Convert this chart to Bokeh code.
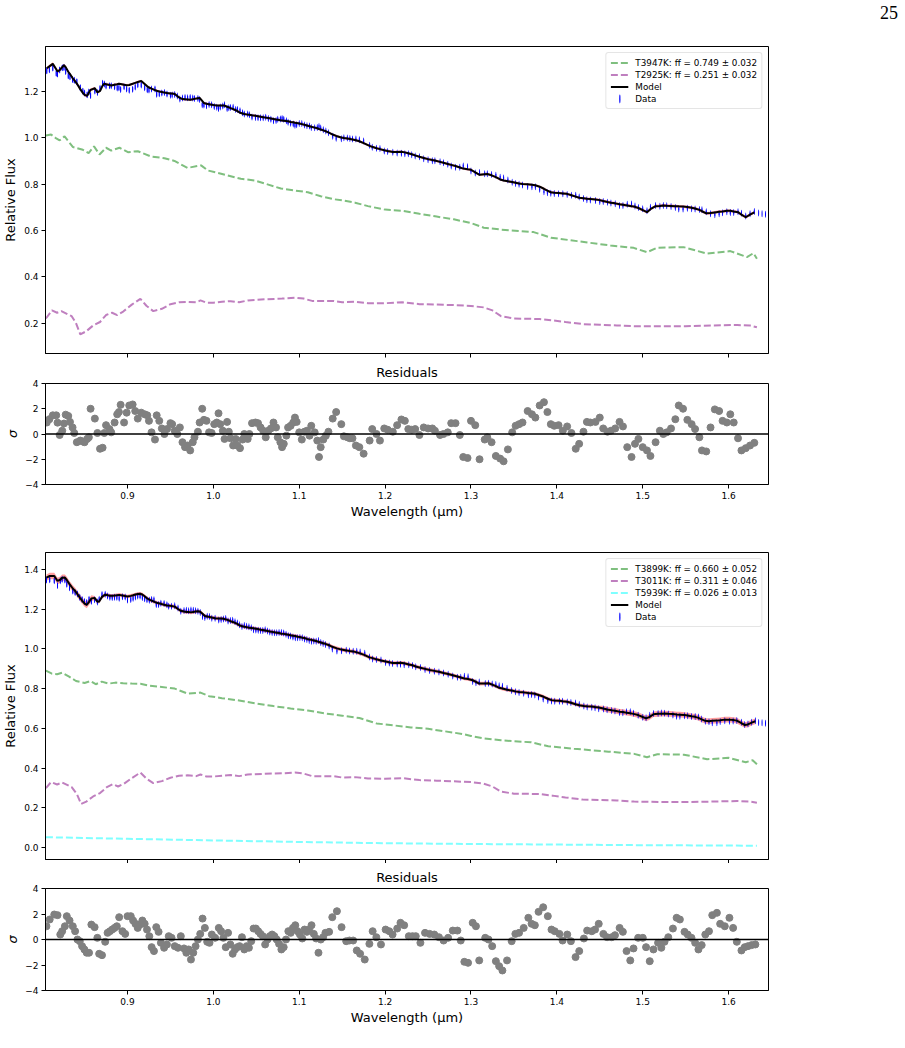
import numpy as np
from bokeh.plotting import figure
from bokeh.layouts import column
from bokeh.models import (Range1d, FixedTicker, PrintfTickFormatter, Legend,
                          LegendItem, Span, Div, CustomJSTickFormatter)
from bokeh.embed import file_html
from bokeh.resources import INLINE

# ---------------------------------------------------------------- data ----
# Fit 1: two-temperature model
wl_top = [
    0.806, 0.809, 0.813, 0.817, 0.8185, 0.821, 0.824, 0.826, 0.828, 0.831,
    0.833, 0.836, 0.838, 0.841, 0.845, 0.848, 0.850, 0.853, 0.855, 0.857,
    0.862, 0.865, 0.868, 0.871, 0.873, 0.875, 0.879, 0.881, 0.885, 0.888,
    0.890, 0.892, 0.896, 0.899, 0.902, 0.906, 0.909, 0.912, 0.916, 0.920,
    0.923, 0.925, 0.928, 0.932, 0.934, 0.937, 0.940, 0.943, 0.946, 0.950,
    0.952, 0.955, 0.958, 0.961, 0.964, 0.967, 0.970, 0.973, 0.976, 0.978,
    0.982, 0.984, 0.987, 0.989, 0.992, 0.995, 0.998, 1.001, 1.004, 1.006,
    1.008, 1.011, 1.013, 1.016, 1.018, 1.020, 1.023, 1.026, 1.028, 1.031,
    1.034, 1.036, 1.040, 1.042, 1.045, 1.049, 1.052, 1.055, 1.058, 1.061,
    1.064, 1.067, 1.070, 1.073, 1.075, 1.078, 1.080, 1.082, 1.085, 1.087,
    1.090, 1.093, 1.095, 1.097, 1.100, 1.103, 1.106, 1.109, 1.112, 1.114,
    1.118, 1.121, 1.123, 1.125, 1.128, 1.131, 1.134, 1.139, 1.143, 1.149,
    1.152, 1.156, 1.159, 1.162, 1.166, 1.170, 1.175, 1.182, 1.185, 1.190,
    1.194, 1.199, 1.203, 1.209, 1.214, 1.219, 1.223, 1.227, 1.231, 1.235,
    1.240, 1.245, 1.250, 1.255, 1.258, 1.264, 1.268, 1.273, 1.277, 1.282,
    1.287, 1.291, 1.296, 1.300, 1.305, 1.310, 1.316, 1.319, 1.324, 1.329,
    1.334, 1.338, 1.343, 1.348, 1.352, 1.356, 1.360, 1.366, 1.371, 1.375,
    1.380, 1.385, 1.389, 1.393, 1.397, 1.402, 1.407, 1.412, 1.417, 1.422,
    1.426, 1.431, 1.435, 1.439, 1.445, 1.450, 1.454, 1.459, 1.463, 1.468,
    1.473, 1.477, 1.482, 1.487, 1.491, 1.495, 1.500, 1.505, 1.509, 1.515,
    1.520, 1.524, 1.528, 1.533, 1.538, 1.542, 1.547, 1.552, 1.557, 1.561,
    1.566, 1.569, 1.574, 1.579, 1.584, 1.589, 1.593, 1.598, 1.602, 1.606,
    1.611, 1.615, 1.620, 1.625, 1.630]
resid_top = [
    0.91, 1.17, 1.48, 1.48, 0.90, -0.08, 0.26, 0.83, 1.53, 1.43,
    0.96, 0.52, 0.08, -0.65, -0.52, -0.60, -0.65, -0.39, -0.26, 2.00,
    1.22, 0.08, -1.17, -1.09, 0.08, 0.70, 0.39, 0.13, 0.91, 1.56,
    1.74, 2.31, 0.91, 1.69, 2.26, 2.34, 1.82, 1.22, 1.69, 1.56,
    1.48, 1.04, 0.13, -0.44, 1.48, 1.04, 0.44, 0.00, 0.39, 0.86,
    0.78, 0.26, 0.00, 0.52, -0.65, -1.04, -0.91, -1.30, -0.65, -0.26,
    0.18, 0.91, 2.00, 1.12, 1.04, 0.13, 0.08, 0.78, 0.91, 1.64,
    0.78, 0.26, -0.39, 0.96, 0.18, -0.34, -0.91, -0.39, -0.91, -1.12,
    -0.44, 0.00, -0.39, 0.00, 0.86, 0.91, 0.86, 0.52, 0.26, -0.26,
    0.26, 0.44, 0.91, 0.52, -0.26, -0.65, -1.04, -0.78, -0.13, 0.52,
    0.65, 0.91, 1.30, 0.96, 0.13, -0.44, 0.18, 0.26, -0.13, 0.65,
    0.13, -0.52, -1.82, -1.04, -0.44, -0.13, 0.18, 1.22, 1.74, 0.78,
    -0.18, -0.26, -0.34, -0.34, -0.91, -1.04, -1.56, -0.52, 0.39, 0.00,
    -0.52, 0.44, 0.34, 0.18, 0.70, 1.15, 1.04, 0.39, 0.34, 0.39,
    -0.08, 0.52, 0.44, 0.44, 0.26, -0.08, 0.00, 0.13, 0.86, 0.86,
    -0.08, -1.82, -1.90, 1.04, 0.70, -2.00, -0.44, -0.26, -0.65, -1.74,
    -1.95, -2.16, -1.22, 0.13, 0.65, 0.78, 0.91, 1.82, 1.56, 1.30,
    2.26, 2.52, 1.74, 0.78, 0.65, 0.70, 0.26, 0.60, 0.08, -1.17,
    -0.78, 0.18, 0.96, 0.91, 0.96, 1.30, 0.44, 0.18, 0.26, 0.44,
    0.96, 0.60, -1.04, -1.82, -0.78, -0.39, -1.04, -1.30, -1.74, -0.65,
    0.26, 0.00, 0.13, 0.44, 1.17, 2.26, 2.00, 1.12, 0.78, 0.39,
    -0.26, -1.30, -1.38, 0.52, 1.95, 1.82, 1.04, 0.91, 1.56, 0.91,
    -0.34, -1.30, -1.12, -0.91, -0.70]
model_top = [
    1.300, 1.308, 1.319, 1.296, 1.286, 1.292, 1.305, 1.313, 1.305, 1.285,
    1.275, 1.258, 1.249, 1.234, 1.210, 1.194, 1.185, 1.181, 1.194, 1.207,
    1.214, 1.196, 1.202, 1.225, 1.233, 1.231, 1.228, 1.226, 1.229, 1.231,
    1.233, 1.232, 1.229, 1.227, 1.228, 1.233, 1.237, 1.241, 1.245, 1.232,
    1.222, 1.217, 1.212, 1.206, 1.203, 1.200, 1.198, 1.195, 1.193, 1.191,
    1.191, 1.189, 1.180, 1.172, 1.167, 1.166, 1.165, 1.164, 1.166, 1.168,
    1.171, 1.172, 1.159, 1.150, 1.147, 1.145, 1.143, 1.141, 1.139, 1.139,
    1.139, 1.139, 1.139, 1.134, 1.131, 1.128, 1.124, 1.119, 1.115, 1.108,
    1.105, 1.103, 1.100, 1.099, 1.097, 1.095, 1.093, 1.091, 1.089, 1.087,
    1.085, 1.083, 1.081, 1.079, 1.078, 1.076, 1.075, 1.074, 1.072, 1.071,
    1.068, 1.067, 1.065, 1.064, 1.062, 1.059, 1.056, 1.053, 1.050, 1.048,
    1.044, 1.041, 1.038, 1.036, 1.032, 1.028, 1.023, 1.014, 1.008, 1.001,
    0.999, 0.997, 0.995, 0.993, 0.989, 0.985, 0.977, 0.965, 0.961, 0.955,
    0.951, 0.946, 0.943, 0.939, 0.939, 0.940, 0.937, 0.933, 0.929, 0.924,
    0.918, 0.913, 0.908, 0.904, 0.902, 0.896, 0.892, 0.887, 0.883, 0.878,
    0.872, 0.867, 0.864, 0.862, 0.851, 0.840, 0.843, 0.844, 0.838, 0.830,
    0.820, 0.816, 0.812, 0.809, 0.806, 0.803, 0.801, 0.799, 0.797, 0.795,
    0.789, 0.780, 0.772, 0.765, 0.763, 0.762, 0.760, 0.758, 0.752, 0.746,
    0.741, 0.739, 0.737, 0.736, 0.734, 0.731, 0.727, 0.723, 0.720, 0.717,
    0.713, 0.711, 0.708, 0.705, 0.702, 0.697, 0.688, 0.679, 0.692, 0.705,
    0.706, 0.708, 0.707, 0.706, 0.705, 0.704, 0.703, 0.701, 0.698, 0.695,
    0.689, 0.683, 0.674, 0.675, 0.678, 0.681, 0.682, 0.685, 0.685, 0.682,
    0.679, 0.668, 0.657, 0.668, 0.678]
# data points redward of the model grid
tail_wl_top = [1.635, 1.639, 1.643]
tail_flux_top = [0.675, 0.672, 0.670]

green_wl_top = [0.805, 0.811, 0.816, 0.821, 0.8267, 0.8365, 0.848, 0.8547, 0.861,
                0.8674, 0.875, 0.881, 0.8907, 0.9005, 0.912, 0.9276, 0.943, 0.9547,
                0.970, 0.9857, 0.9935, 1.009, 1.032, 1.048, 1.063, 1.0787, 1.094,
                1.11, 1.125, 1.14, 1.15, 1.165, 1.18, 1.20, 1.22, 1.24, 1.26, 1.28,
                1.30, 1.315, 1.3345, 1.373, 1.393, 1.4237, 1.4625, 1.4895, 1.505,
                1.5167, 1.5477, 1.575, 1.602, 1.6214, 1.629, 1.633]
green_flux_top = [1.010, 1.014, 1.000, 0.989, 1.006, 0.960, 0.948, 0.934, 0.963,
                  0.928, 0.957, 0.945, 0.957, 0.938, 0.942, 0.919, 0.912, 0.900,
                  0.870, 0.881, 0.859, 0.845, 0.823, 0.816, 0.799, 0.781, 0.773,
                  0.765, 0.748, 0.735, 0.730, 0.720, 0.705, 0.690, 0.685, 0.672,
                  0.660, 0.648, 0.632, 0.612, 0.604, 0.593, 0.569, 0.554, 0.535,
                  0.525, 0.506, 0.525, 0.528, 0.500, 0.511, 0.485, 0.502, 0.478]
purple_wl_top = [0.805, 0.812, 0.818, 0.823, 0.835, 0.840, 0.845, 0.852, 0.860,
                 0.868, 0.875, 0.882, 0.888, 0.895, 0.905, 0.915, 0.922, 0.930,
                 0.940, 0.950, 0.960, 0.970, 0.980, 0.985, 0.992, 1.000, 1.010,
                 1.020, 1.030, 1.040, 1.060, 1.080, 1.095, 1.105, 1.115, 1.140,
                 1.150, 1.165, 1.180, 1.200, 1.220, 1.240, 1.260, 1.280, 1.300,
                 1.315, 1.325, 1.335, 1.350, 1.380, 1.395, 1.410, 1.430, 1.450,
                 1.470, 1.490, 1.520, 1.550, 1.580, 1.610, 1.625, 1.633]
purple_flux_top = [0.220, 0.255, 0.245, 0.252, 0.230, 0.200, 0.152, 0.165, 0.190,
                   0.205, 0.235, 0.245, 0.235, 0.250, 0.280, 0.305, 0.275, 0.252,
                   0.262, 0.282, 0.290, 0.292, 0.290, 0.298, 0.288, 0.288, 0.292,
                   0.295, 0.290, 0.298, 0.303, 0.306, 0.310, 0.306, 0.296, 0.296,
                   0.290, 0.292, 0.286, 0.286, 0.290, 0.282, 0.280, 0.278, 0.274,
                   0.268, 0.255, 0.230, 0.220, 0.218, 0.212, 0.205, 0.196, 0.193,
                   0.190, 0.187, 0.187, 0.187, 0.190, 0.192, 0.190, 0.182]

# Fit 2: three-temperature model
wl_bot = [
    0.8056, 0.8094, 0.8147, 0.8185, 0.8217, 0.8239, 0.8271, 0.8293, 0.8325, 0.8363,
    0.8390, 0.8417, 0.8444, 0.8471, 0.8498, 0.8525, 0.8552, 0.8579, 0.8617, 0.8649,
    0.8670, 0.8703, 0.8740, 0.8768, 0.8795, 0.8822, 0.8849, 0.8876, 0.8903, 0.8941,
    0.8973, 0.9000, 0.9038, 0.9065, 0.9092, 0.9119, 0.9146, 0.9173, 0.9200, 0.9227,
    0.9254, 0.9281, 0.9308, 0.9335, 0.9362, 0.9389, 0.9426, 0.9459, 0.9480, 0.9513,
    0.9550, 0.9588, 0.9621, 0.9658, 0.9685, 0.9712, 0.9739, 0.9766, 0.9793, 0.9820,
    0.9847, 0.9874, 0.9901, 0.9928, 0.9955, 0.9982, 1.0020, 1.0063, 1.0090, 1.0117,
    1.0144, 1.0171, 1.0198, 1.0225, 1.0252, 1.0279, 1.0306, 1.0333, 1.0360, 1.0387,
    1.0414, 1.0441, 1.0468, 1.0495, 1.0522, 1.0549, 1.0576, 1.0603, 1.0630, 1.0657,
    1.0684, 1.0711, 1.0738, 1.0765, 1.0792, 1.0819, 1.0846, 1.0873, 1.0900, 1.0927,
    1.0954, 1.0981, 1.1008, 1.1035, 1.1062, 1.1089, 1.1116, 1.1143, 1.1170, 1.1197,
    1.1224, 1.1251, 1.1278, 1.1305, 1.1348, 1.1385, 1.1439, 1.1493, 1.1547, 1.1585,
    1.1628, 1.1670, 1.1709, 1.1763, 1.1817, 1.1855, 1.1898, 1.1952, 1.2006, 1.2049,
    1.2087, 1.2141, 1.2179, 1.2222, 1.2276, 1.2319, 1.2357, 1.2411, 1.2465, 1.2519,
    1.2573, 1.2627, 1.2681, 1.2734, 1.2788, 1.2842, 1.2881, 1.2923, 1.2966, 1.3020,
    1.3058, 1.3096, 1.3166, 1.3204, 1.3247, 1.3290, 1.3328, 1.3366, 1.3420, 1.3474,
    1.3517, 1.3560, 1.3614, 1.3668, 1.3706, 1.3744, 1.3787, 1.3841, 1.3895, 1.3938,
    1.3976, 1.4030, 1.4067, 1.4121, 1.4164, 1.4218, 1.4261, 1.4315, 1.4353, 1.4407,
    1.4445, 1.4488, 1.4542, 1.4585, 1.4639, 1.4677, 1.4731, 1.4769, 1.4812, 1.4855,
    1.4893, 1.4947, 1.5001, 1.5039, 1.5082, 1.5125, 1.5179, 1.5217, 1.5254, 1.5298,
    1.5352, 1.5395, 1.5433, 1.5487, 1.5524, 1.5568, 1.5611, 1.5649, 1.5687, 1.5729,
    1.5772, 1.5810, 1.5864, 1.5902, 1.5956, 1.6010, 1.6053, 1.6096, 1.6150, 1.6188,
    1.6226, 1.6269, 1.6312]
resid_bot = [
    1.04, 1.57, 1.96, 1.91, 0.39, 0.65, 1.04, 1.83, 1.49, 1.04,
    0.65, 0.00, -0.13, -0.52, -0.78, -1.04, -1.04, 1.17, 0.97, 0.13,
    -1.12, -1.23, -0.18, 0.52, 0.65, 0.78, 0.91, 1.04, 1.75, 0.65,
    0.44, 1.83, 1.83, 1.49, 1.23, 0.91, 1.17, 1.49, 1.23, 0.78,
    0.26, -0.60, -0.91, 0.97, 0.60, -0.26, -0.65, -0.39, 0.26, 0.13,
    -0.52, -0.65, 0.26, -0.70, -1.04, -0.78, -1.57, -1.04, -0.52, 0.00,
    0.44, 1.64, 0.91, -0.18, -0.26, 0.39, 0.13, 0.91, 0.65, 0.13,
    -0.60, 0.52, -0.39, -1.12, -0.78, -0.60, -0.52, 0.18, -0.78, -0.52,
    -0.65, -0.13, 0.86, 0.86, 0.65, 0.44, 0.26, -0.39, 0.00, 0.26,
    0.39, 0.26, 0.00, -0.34, -0.78, -0.60, 0.00, 0.65, 0.52, 0.91,
    1.12, 0.65, 0.39, 0.08, 0.78, 0.60, 0.78, 1.12, 0.44, 0.08,
    -1.04, 0.00, 0.18, 0.52, 0.60, 1.75, 2.22, 0.97, -0.13, -0.08,
    -0.08, -0.86, -1.12, -1.57, -0.34, 0.65, 0.18, -0.39, 0.78, 0.65,
    0.39, 0.86, 1.31, 1.12, 0.26, 0.26, 0.26, -0.26, 0.52, 0.44,
    0.39, 0.18, -0.08, 0.13, 0.70, 0.70, -0.08, -1.75, -1.83, 1.31,
    1.04, -1.64, 0.13, 0.00, -0.52, -1.70, -2.09, -2.43, -1.64, -0.13,
    0.44, 0.52, 0.91, 1.70, 1.23, 1.12, 2.17, 2.53, 1.83, 0.78,
    0.65, 0.44, -0.08, 0.39, -0.13, -1.38, -0.91, 0.08, 0.70, 0.65,
    0.78, 1.23, 0.44, 0.18, 0.18, 0.34, 0.91, 0.60, -0.91, -1.64,
    -0.70, 0.13, 0.13, -0.60, -1.70, -0.78, -0.26, -0.65, -0.18, 0.18,
    0.86, 1.70, 1.57, 0.60, 0.39, 0.13, -0.26, -0.78, -0.44, 0.39,
    0.65, 1.91, 2.09, 1.23, 1.04, 1.70, 0.91, -0.18, -0.86, -0.60,
    -0.52, -0.44, -0.39]
model_bot = [
    1.358, 1.366, 1.366, 1.341, 1.347, 1.357, 1.358, 1.346, 1.325, 1.303,
    1.291, 1.275, 1.258, 1.242, 1.228, 1.220, 1.236, 1.253, 1.256, 1.237,
    1.238, 1.261, 1.272, 1.270, 1.266, 1.266, 1.268, 1.269, 1.271, 1.268,
    1.265, 1.263, 1.266, 1.269, 1.273, 1.275, 1.277, 1.273, 1.264, 1.254,
    1.247, 1.242, 1.237, 1.232, 1.229, 1.226, 1.221, 1.218, 1.217, 1.215,
    1.212, 1.200, 1.191, 1.187, 1.185, 1.185, 1.183, 1.185, 1.187, 1.189,
    1.186, 1.176, 1.165, 1.162, 1.160, 1.157, 1.154, 1.152, 1.152, 1.151,
    1.148, 1.144, 1.139, 1.135, 1.130, 1.125, 1.117, 1.114, 1.111, 1.109,
    1.106, 1.105, 1.103, 1.101, 1.099, 1.096, 1.094, 1.092, 1.090, 1.087,
    1.085, 1.083, 1.081, 1.079, 1.076, 1.075, 1.073, 1.071, 1.068, 1.066,
    1.064, 1.061, 1.059, 1.056, 1.054, 1.050, 1.047, 1.045, 1.042, 1.039,
    1.035, 1.032, 1.028, 1.025, 1.018, 1.010, 1.002, 0.996, 0.992, 0.989,
    0.987, 0.982, 0.977, 0.968, 0.957, 0.953, 0.947, 0.941, 0.936, 0.932,
    0.929, 0.929, 0.930, 0.927, 0.921, 0.917, 0.911, 0.905, 0.899, 0.893,
    0.889, 0.885, 0.878, 0.873, 0.867, 0.861, 0.856, 0.851, 0.848, 0.842,
    0.834, 0.825, 0.826, 0.827, 0.820, 0.812, 0.804, 0.800, 0.794, 0.790,
    0.786, 0.783, 0.781, 0.778, 0.776, 0.774, 0.768, 0.760, 0.749, 0.742,
    0.740, 0.739, 0.736, 0.734, 0.729, 0.721, 0.716, 0.713, 0.711, 0.710,
    0.707, 0.705, 0.700, 0.695, 0.691, 0.689, 0.684, 0.682, 0.679, 0.676,
    0.673, 0.667, 0.657, 0.650, 0.658, 0.671, 0.673, 0.674, 0.675, 0.673,
    0.672, 0.670, 0.669, 0.667, 0.665, 0.661, 0.658, 0.653, 0.645, 0.638,
    0.636, 0.638, 0.639, 0.641, 0.644, 0.644, 0.642, 0.639, 0.626, 0.617,
    0.620, 0.629, 0.636]
tail_wl_bot = [1.635, 1.639, 1.643]
tail_flux_bot = [0.630, 0.628, 0.626]

green_wl_bot = [0.805, 0.812, 0.818, 0.824, 0.832, 0.840, 0.850, 0.857, 0.863,
                0.870, 0.878, 0.886, 0.895, 0.905, 0.915, 0.925, 0.94, 0.955,
                0.97, 0.985, 0.995, 1.01, 1.03, 1.05, 1.07, 1.09, 1.11, 1.13,
                1.15, 1.17, 1.19, 1.21, 1.23, 1.25, 1.27, 1.29, 1.30, 1.315,
                1.335, 1.37, 1.39, 1.42, 1.46, 1.49, 1.505, 1.517, 1.548,
                1.575, 1.60, 1.62, 1.628, 1.633]
green_flux_bot = [0.890, 0.875, 0.872, 0.880, 0.860, 0.838, 0.828, 0.838, 0.822,
                  0.835, 0.825, 0.830, 0.827, 0.825, 0.824, 0.815, 0.808, 0.800,
                  0.775, 0.780, 0.762, 0.752, 0.740, 0.725, 0.712, 0.700, 0.690,
                  0.675, 0.664, 0.652, 0.625, 0.615, 0.605, 0.598, 0.585, 0.572,
                  0.562, 0.550, 0.540, 0.530, 0.510, 0.498, 0.483, 0.472, 0.455,
                  0.470, 0.468, 0.445, 0.452, 0.430, 0.440, 0.420]
purple_wl_bot = [0.805, 0.811, 0.818, 0.824, 0.835, 0.841, 0.846, 0.852, 0.860,
                 0.868, 0.876, 0.883, 0.889, 0.896, 0.905, 0.915, 0.922, 0.930,
                 0.940, 0.950, 0.960, 0.970, 0.980, 0.985, 0.992, 1.000, 1.010,
                 1.020, 1.030, 1.040, 1.060, 1.080, 1.095, 1.105, 1.115, 1.140,
                 1.150, 1.165, 1.180, 1.200, 1.220, 1.240, 1.260, 1.280, 1.300,
                 1.315, 1.325, 1.335, 1.350, 1.380, 1.395, 1.410, 1.430, 1.450,
                 1.470, 1.490, 1.520, 1.550, 1.580, 1.610, 1.625, 1.633]
purple_flux_bot = [0.300, 0.330, 0.318, 0.328, 0.305, 0.270, 0.220, 0.232, 0.258,
                   0.275, 0.305, 0.320, 0.308, 0.322, 0.350, 0.378, 0.348, 0.325,
                   0.335, 0.352, 0.362, 0.364, 0.360, 0.368, 0.358, 0.358, 0.362,
                   0.366, 0.360, 0.368, 0.372, 0.374, 0.378, 0.373, 0.360, 0.360,
                   0.353, 0.355, 0.348, 0.347, 0.350, 0.340, 0.337, 0.334, 0.330,
                   0.322, 0.308, 0.282, 0.272, 0.270, 0.262, 0.253, 0.242, 0.240,
                   0.238, 0.232, 0.230, 0.230, 0.232, 0.235, 0.232, 0.226]
cyan_wl_bot = [0.805, 0.9, 1.0, 1.1, 1.2, 1.3, 1.4, 1.5, 1.6, 1.633]
cyan_flux_bot = [0.053, 0.045, 0.037, 0.029, 0.023, 0.019, 0.016, 0.013, 0.011, 0.010]

labels_top = ["T3947K: ff = 0.749 \u00b1 0.032", "T2925K: ff = 0.251 \u00b1 0.032"]
labels_bot = ["T3899K: ff = 0.660 \u00b1 0.052", "T3011K: ff = 0.311 \u00b1 0.046",
              "T5939K: ff = 0.026 \u00b1 0.013"]

# flux uncertainty per wavelength band (edges in micron)
err_edges = [0.86, 0.95, 1.10, 1.30]
err_levels = [0.012, 0.010, 0.008, 0.006, 0.005]
# half-width of the model uncertainty band
band_edges = [0.86, 1.45]
band_levels_top = [0.007, 0.005, 0.006]
band_levels_bot = [0.016, 0.009, 0.014]

# ------------------------------------------------------------- styling ----
FONT = "DejaVu Sans"
W = 905
X_RANGE = (0.8045, 1.6465)
WL_TICKS = [0.9, 1.0, 1.1, 1.2, 1.3, 1.4, 1.5, 1.6]
GREEN, PURPLE, CYAN = "#7fbf7f", "#bf7fbf", "#7fffff"


def base_figure(height, top, bottom, y_range, title=None):
    kw = {}
    if title:
        kw["title"] = title
    p = figure(width=W, height=height, x_range=Range1d(*X_RANGE),
               y_range=Range1d(*y_range), output_backend="svg",
               toolbar_location=None, min_border_left=44, min_border_right=137,
               min_border_top=top, min_border_bottom=bottom, **kw)
    p.grid.visible = False
    p.outline_line_color = "black"
    p.outline_line_width = 1
    p.background_fill_color = "white"
    p.border_fill_color = "white"
    for ax in (p.xaxis[0], p.yaxis[0]):
        ax.axis_line_color = "black"
        ax.major_tick_line_color = "black"
        ax.major_tick_out = 4
        ax.major_tick_in = 0
        ax.minor_tick_out = 0
        ax.minor_tick_in = 0
        ax.major_label_text_font = FONT
        ax.major_label_text_font_size = "9px"
        ax.major_label_text_color = "black"
        ax.major_label_standoff = 3
        ax.axis_label_text_font = FONT
        ax.axis_label_text_font_size = "13px"
        ax.axis_label_text_font_style = "normal"
        ax.axis_label_text_color = "black"
    p.xaxis.ticker = FixedTicker(ticks=WL_TICKS, minor_ticks=[])
    p.xaxis.formatter = PrintfTickFormatter(format="%.1f")
    return p


def spectrum_panel(height, top, bottom, y_range, y_ticks, wl, model, resid,
                   tail_wl, tail_flux, comps, band_levels):
    wl = np.array(wl)
    model = np.array(model)
    resid = np.array(resid)
    err = np.array(err_levels)[np.digitize(wl, err_edges)]
    band = np.array(band_levels)[np.digitize(wl, band_edges)]
    data = model - resid * err

    p = base_figure(height, top, bottom, y_range)
    # wavelength ticks without labels on the spectrum panels
    p.xaxis.formatter = CustomJSTickFormatter(code="return ''")
    p.xaxis.major_label_standoff = 0
    p.yaxis.ticker = FixedTicker(ticks=y_ticks, minor_ticks=[])
    p.yaxis.formatter = PrintfTickFormatter(format="%.1f")
    p.yaxis.axis_label = "Relative Flux"
    p.yaxis.axis_label_standoff = 3

    p.varea(x=wl, y1=model - band, y2=model + band, fill_color="red", fill_alpha=0.38)
    p.segment(x0=wl, y0=data - err, x1=wl, y1=data + err, line_color="blue",
              line_width=1, line_alpha=0.8)
    all_wl = np.concatenate([wl, tail_wl])
    all_flux = np.concatenate([data, tail_flux])
    # thin vertical ticks mark each data point (and give a "|" legend glyph)
    r_data = p.ellipse(x=all_wl, y=all_flux, width=1, height=7,
                       width_units="screen", height_units="screen",
                       fill_color="blue", line_color=None)
    items = []
    for label, cwl, cflux, color in comps:
        r = p.line(cwl, cflux, line_color=color, line_width=2, line_dash="7 3")
        items.append(LegendItem(label=label, renderers=[r]))
    r_model = p.line(wl, model, line_color="black", line_width=2)
    items.append(LegendItem(label="Model", renderers=[r_model]))
    items.append(LegendItem(label="Data", renderers=[r_data]))

    legend = Legend(items=items, location="top_right", margin=6, padding=4,
                    spacing=1, glyph_width=18, glyph_height=11, label_height=11,
                    label_standoff=7, label_text_font=FONT,
                    label_text_font_size="8.8px", label_text_color="black",
                    border_line_color="#cccccc", border_line_width=1,
                    background_fill_alpha=0.8)
    if "border_radius" in Legend.properties():
        legend.border_radius = 3
    p.add_layout(legend)
    return p


def residual_panel(height, top, bottom, wl, resid):
    p = base_figure(height, top, bottom, (-4, 4), title="Residuals")
    p.title.align = "center"
    p.title.text_font = FONT
    p.title.text_font_size = "13px"
    p.title.text_font_style = "normal"
    p.title.text_color = "black"
    p.title.standoff = 8
    p.yaxis.ticker = FixedTicker(ticks=[-4, -2, 0, 2, 4], minor_ticks=[])
    p.yaxis.major_label_overrides = {-4: "\u22124", -2: "\u22122", 0: "0", 2: "2", 4: "4"}
    p.yaxis.axis_label = "\u03c3"
    p.yaxis.axis_label_text_font_style = "italic"
    p.yaxis.axis_label_standoff = 2
    p.xaxis.axis_label = "Wavelength (\u03bcm)"
    p.xaxis.axis_label_standoff = 2
    p.scatter(x=wl, y=resid, size=7, fill_color="gray", line_color="gray")
    p.add_layout(Span(location=0, dimension="width", line_color="black", line_width=1.5))
    return p


page_number = Div(text="25", width=W, height=24, margin=(0, 0, 0, 0),
                  styles={"font-family": "Liberation Serif", "font-size": "18px",
                          "line-height": "26px", "text-align": "right",
                          "padding-right": "7px", "box-sizing": "border-box",
                          "color": "black"})
p1 = spectrum_panel(334, 22, 5, (0.069, 1.394), [0.2, 0.4, 0.6, 0.8, 1.0, 1.2],
                    wl_top, model_top, resid_top, tail_wl_top, tail_flux_top,
                    [(labels_top[0], green_wl_top, green_flux_top, GREEN),
                     (labels_top[1], purple_wl_top, purple_flux_top, PURPLE)],
                    band_levels_top)
p2 = residual_panel(172, 24, 46, wl_top, resid_top)
p3 = spectrum_panel(333, 22, 4, (-0.059, 1.484),
                    [0.0, 0.2, 0.4, 0.6, 0.8, 1.0, 1.2, 1.4],
                    wl_bot, model_bot, resid_bot, tail_wl_bot, tail_flux_bot,
                    [(labels_bot[0], green_wl_bot, green_flux_bot, GREEN),
                     (labels_bot[1], purple_wl_bot, purple_flux_bot, PURPLE),
                     (labels_bot[2], cyan_wl_bot, cyan_flux_bot, CYAN)],
                    band_levels_bot)
p4 = residual_panel(185, 24, 58, wl_bot, resid_bot)

layout = column(page_number, p1, p2, p3, p4, spacing=0)
open("out.html", "w").write(file_html(layout, INLINE))
